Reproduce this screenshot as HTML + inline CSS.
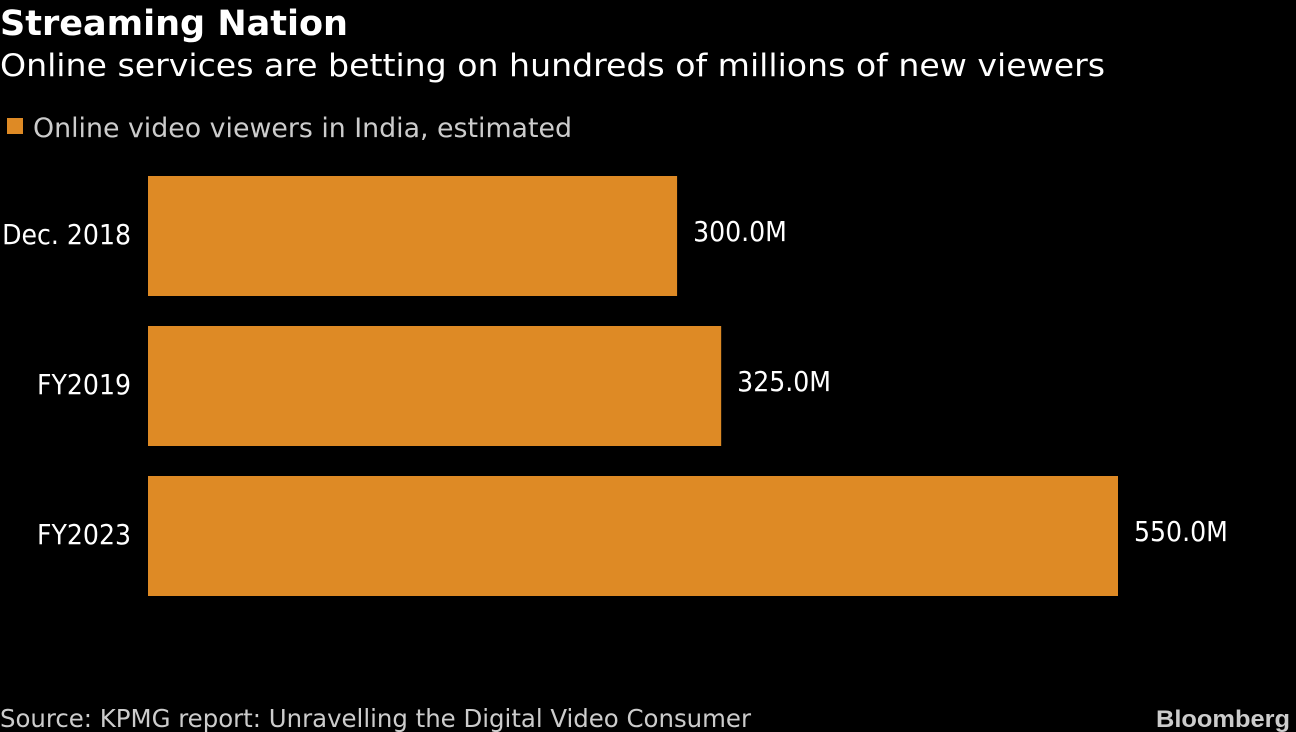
<!DOCTYPE html>
<html><head><meta charset="utf-8"><style>
html,body{margin:0;padding:0;background:#000;width:1296px;height:732px;overflow:hidden}
text{font-family:"DejaVu Sans","Liberation Sans",sans-serif;font-stretch:condensed}
</style></head><body>
<svg id="chart" width="1296" height="732" viewBox="0 0 1296 732">
<text x="0" y="35" fill="#fff" font-size="35" font-weight="bold" textLength="348" lengthAdjust="spacingAndGlyphs">Streaming Nation</text>
<text x="0" y="76" fill="#fff" font-size="31" textLength="1105" lengthAdjust="spacingAndGlyphs">Online services are betting on hundreds of millions of new viewers</text>
<rect x="7" y="118" width="16" height="16" fill="#de8a25"/>
<text x="33" y="137" fill="#ccc" font-size="27" textLength="539" lengthAdjust="spacingAndGlyphs">Online video viewers in India, estimated</text>
<g id="bars"></g>
<text x="0" y="727" fill="#ccc" font-size="25" textLength="751" lengthAdjust="spacingAndGlyphs">Source: KPMG report: Unravelling the Digital Video Consumer</text>
<text x="1290" y="727" fill="#ccc" font-size="24" font-weight="bold" text-anchor="end" style="font-family:'Liberation Sans',sans-serif;font-stretch:normal" textLength="134" lengthAdjust="spacingAndGlyphs">Bloomberg</text>
</svg>
<script>
const categories = ["Dec. 2018", "FY2019", "FY2023"];
const values = [300, 325, 550];
const valueLabels = ["300.0M", "325.0M", "550.0M"];
const NS = "http://www.w3.org/2000/svg";
const x0 = 148, pxPerUnit = 970 / 550;
const xScale = v => x0 + v * pxPerUnit;
const yBand = i => 176 + i * 150;
const g = document.getElementById("bars");
categories.forEach((c, i) => {
  const r = document.createElementNS(NS, "rect");
  
  
  r.setAttribute("x", x0);
  r.setAttribute("y", yBand(i));
  r.setAttribute("width", xScale(values[i]) - x0);
  r.setAttribute("height", 120);
  r.setAttribute("fill", "#de8a25");
  g.appendChild(r);
  const l = document.createElementNS(NS, "text");
  
  
  l.setAttribute("x", 131);
  l.setAttribute("y", yBand(i) + 68);
  l.setAttribute("text-anchor", "end");
  l.setAttribute("fill", "#fff");
  l.setAttribute("font-size", "28");
  l.textContent = c;
  g.appendChild(l);
  const v = document.createElementNS(NS, "text");
  
  
  v.setAttribute("x", xScale(values[i]) + 16);
  v.setAttribute("y", yBand(i) + 65);
  v.setAttribute("fill", "#fff");
  v.setAttribute("font-size", "28");
  v.textContent = valueLabels[i];
  g.appendChild(v);
});
</script>
</body></html>
